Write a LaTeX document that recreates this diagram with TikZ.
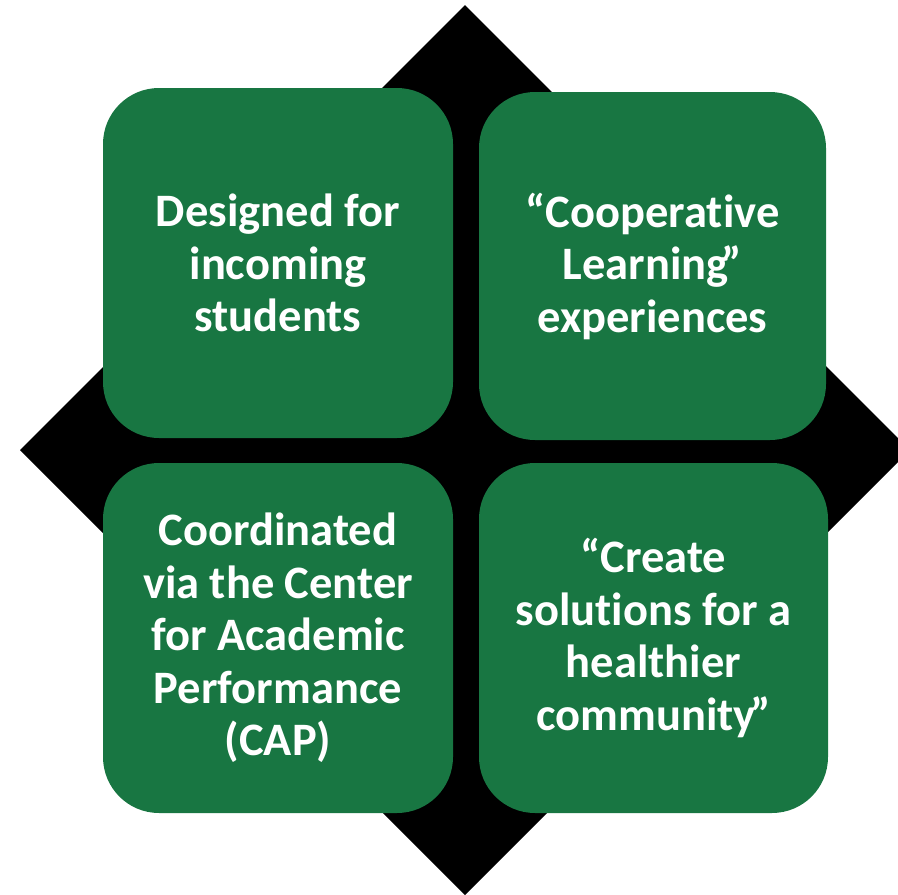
\documentclass[tikz,border=0pt]{standalone}
\usepackage{fontspec}
\setmainfont[Ligatures={NoCommon}]{Carlito}
\definecolor{boxgreen}{RGB}{24,118,66}
\begin{document}
\begin{tikzpicture}[x=1pt,y=-1pt,
  card/.style={fill=boxgreen, draw=none, rounded corners=56pt, inner sep=0pt,
    text=white, align=center, font=\bfseries\fontsize{46.5}{52.5}\selectfont},
  ]
\useasboundingbox (0,0) rectangle (898,895);
\begin{scope}
\clip (0,0) rectangle (898,895);
\fill[black] (465,5) -- (20,450) -- (465,895) -- (910,450) -- cycle;
\end{scope}
\node[card, minimum width=350pt, minimum height=350pt] (tl) at (278,263) {Designed for\\incoming\\students};
\node[card, minimum width=347pt, minimum height=348pt] (tr) at (652.5,266) {“Cooperative\\Learning\kern-7pt”\\experiences};
\node[card, minimum width=350pt, minimum height=350pt] (bl) at (278,638) {Coordinated\\via the Center\\for Academic\\Performance\\(CAP)};
\node[card, minimum width=349pt, minimum height=350pt] (br) at (653.5,638) {“Create\\solutions for a\\healthier\\community\kern-5pt”};
\end{tikzpicture}
\end{document}
